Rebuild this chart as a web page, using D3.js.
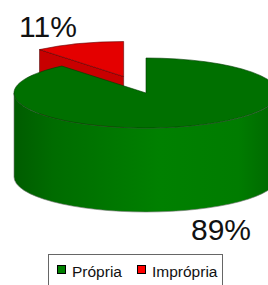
<!DOCTYPE html>
<html><head><meta charset="utf-8">
<script src="https://cdn.jsdelivr.net/npm/d3@7"></script>
<style>html,body{margin:0;padding:0;background:#fff;overflow:hidden}</style>
</head><body>
<svg id="c" width="268" height="285"></svg>
<script>
const categories = ["Própria", "Imprópria"];
const values = [89, 11];
const labels = ["89%", "11%"];
const topColors = ["#007000", "#e40000"];
const sideColors = ["#008000", "#c80000"];
const legendColors = ["#008000", "#ff0000"];

const svg = d3.select("#c");
const cx = 146, cy = 93, rx = 132, ry = 35, depth = 84, explode = 66;

const pie = d3.pie().sort(null).value(d => d)(values);

const defs = svg.append("defs");
const g = defs.append("linearGradient").attr("id", "gside")
  .attr("gradientUnits", "userSpaceOnUse").attr("x1", cx - rx).attr("x2", cx + rx).attr("y1", 0).attr("y2", 0);
g.append("stop").attr("offset", 0).attr("stop-color", "#005c00");
g.append("stop").attr("offset", 0.15).attr("stop-color", "#006c00");
g.append("stop").attr("offset", 0.55).attr("stop-color", "#008000");
g.append("stop").attr("offset", 0.85).attr("stop-color", "#007c00");
g.append("stop").attr("offset", 1).attr("stop-color", "#006600");

function pt(c, a, dy = 0) { return [c[0] + rx * Math.sin(a), c[1] - ry * Math.cos(a) + dy]; }

// draw order: exploded red slice first (behind), then green
const order = [1, 0];
order.forEach(i => {
  const p = pie[i];
  const a0 = p.startAngle, a1 = p.endAngle;
  const mid = (a0 + a1) / 2;
  const off = i === 1 ? explode : 0;
  const c = [cx + off * Math.sin(mid), cy - off * Math.cos(mid) * (ry / rx)];
  const grp = svg.append("g");
  // radial face at start angle (visible if facing front)
  [a0, a1].forEach((a, k) => {
    const nAng = k === 0 ? a - Math.PI / 2 : a + Math.PI / 2;
    if (-Math.cos(nAng) > 0.05) {
      const P = pt(c, a), Pb = pt(c, a, depth);
      grp.append("path")
        .attr("d", `M${c[0]},${c[1]}L${P[0]},${P[1]}L${Pb[0]},${Pb[1]}L${c[0]},${c[1] + depth}Z`)
        .attr("fill", sideColors[i]).attr("stroke", "#400000").attr("stroke-width", 0.5);
    }
  });
  // outer side: front part
  const s = Math.max(a0, Math.PI / 2), e = Math.min(a1, 3 * Math.PI / 2);
  if (e > s) {
    const S = pt(c, s), E = pt(c, e), Sb = pt(c, s, depth), Eb = pt(c, e, depth);
    const large = (e - s) > Math.PI ? 1 : 0;
    grp.append("path")
      .attr("d", `M${S[0]},${S[1]}A${rx},${ry} 0 ${large} 1 ${E[0]},${E[1]}L${Eb[0]},${Eb[1]}A${rx},${ry} 0 ${large} 0 ${Sb[0]},${Sb[1]}Z`)
      .attr("fill", i === 0 ? "url(#gside)" : sideColors[i])
      .attr("stroke", "#777").attr("stroke-width", 0.6);
  }
  // top face
  const A = pt(c, a0), B = pt(c, a1);
  const large = (a1 - a0) > Math.PI ? 1 : 0;
  grp.append("path")
    .attr("d", `M${c[0]},${c[1]}L${A[0]},${A[1]}A${rx},${ry} 0 ${large} 1 ${B[0]},${B[1]}Z`)
    .attr("fill", topColors[i]).attr("stroke", i === 0 ? "#003a00" : "#600000").attr("stroke-width", 0.6);
});

// percentage labels
svg.append("text").text(labels[1]).attr("x", 19).attr("y", 37)
  .attr("font-family", "Liberation Sans, Arial, sans-serif").attr("font-size", 30).attr("fill", "#111");
svg.append("text").text(labels[0]).attr("x", 251).attr("y", 240).attr("text-anchor", "end")
  .attr("font-family", "Liberation Sans, Arial, sans-serif").attr("font-size", 30).attr("fill", "#111");

// legend
svg.append("rect").attr("x", 48.5).attr("y", 254.5).attr("width", 174).attr("height", 40)
  .attr("fill", "#fff").attr("stroke", "#666").attr("stroke-width", 1);
const legX = [57, 137];
categories.forEach((cat, i) => {
  svg.append("rect").attr("x", legX[i] + 0.5).attr("y", 265.5).attr("width", 8).attr("height", 8)
    .attr("fill", legendColors[i]).attr("stroke", "#000").attr("stroke-width", 1);
  svg.append("text").text(cat).attr("x", legX[i] + 15).attr("y", 277)
    .attr("font-family", "Liberation Sans, Arial, sans-serif").attr("font-size", 15.5).attr("fill", "#111");
});
</script>
</body></html>
